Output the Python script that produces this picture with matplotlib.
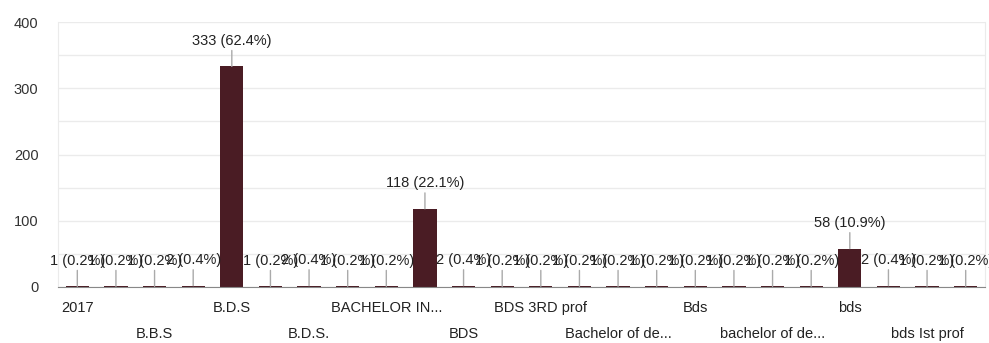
import matplotlib
matplotlib.use("Agg")
import matplotlib.pyplot as plt
from matplotlib.ticker import MultipleLocator

plt.rcParams['font.family'] = ['Liberation Sans', 'DejaVu Sans']

categories = ["2017", "3rd year", "B.B.S", "B.Ch.D", "B.D.S", "B.D.S (2nd year)",
              "B.D.S.", "B.DS", "BACHELOR IN...", "BACHELOR OF...", "BDS", "BDS 2nd year",
              "BDS 3RD prof", "BDS final year", "Bachelor of de...", "Bachelors", "Bds",
              "Bds 3rd year", "bachelor of de...", "bd s", "bds", "bds 3rd year",
              "bds Ist prof", "bds final year"]
values = [1, 1, 1, 2, 333, 1, 2, 1, 1, 118, 2, 1, 1, 1, 1, 1, 1, 1, 1, 1, 58, 2, 1, 1]
y_ticks = [0, 100, 200, 300, 400]

total = sum(values)
bar_color = '#4a1c24'

fig = plt.figure(figsize=(9.89, 3.43), dpi=100)
ax = fig.add_axes([58/989, (343-287)/343, (985-58)/989, (287-22)/343])

x = list(range(len(categories)))
ax.bar(x, values, width=0.6, color=bar_color, zorder=3)

ax.set_xlim(-0.5, len(categories) - 0.5)
ax.set_ylim(0, 400)
ax.set_yticks(y_ticks)
ax.yaxis.set_minor_locator(MultipleLocator(50))
ax.grid(axis='y', which='both', color='#ebebeb', linewidth=1, zorder=0)
ax.tick_params(axis='y', which='both', length=0, pad=14, labelsize=10.5, labelcolor='#333333')

ax.spines['top'].set_visible(False)
for s in ['left', 'right']:
    ax.spines[s].set_color('#ebebeb')
ax.spines['bottom'].set_color('#888888')
ax.spines['bottom'].set_zorder(4)

shown = x[::2]
ax.set_xticks(shown)
ax.set_xticklabels([categories[i] for i in shown], fontsize=10.5, color='#222222')
ax.tick_params(axis='x', length=0)
ticks = ax.xaxis.get_major_ticks()
for k, t in enumerate(ticks):
    t.set_pad(10 if k % 2 == 0 else 29)

for xi, v in zip(x, values):
    ax.annotate(f"{v} ({v/total*100:.1f}%)", xy=(xi, v), xytext=(0, 18.5),
                textcoords='offset points', ha='center', va='center',
                fontsize=10.5, color='#222222', zorder=5,
                arrowprops=dict(arrowstyle='-', color='#aaaaaa', lw=1,
                                shrinkA=0, shrinkB=0))

fig.savefig('out.png', dpi=100, facecolor='white')
